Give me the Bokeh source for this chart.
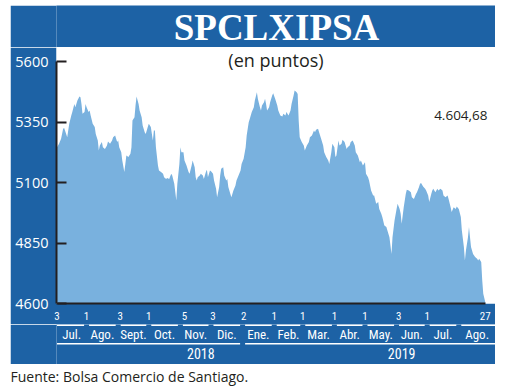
import pandas as pd
from bokeh.plotting import figure
from bokeh.models import Range1d, LinearAxis, FixedTicker, Label
from bokeh.layouts import column
from bokeh.embed import file_html
from bokeh.resources import INLINE
from bokeh.core.properties import value

# ---------------- data ----------------
title_text = "SPCLXIPSA"
subtitle_text = "(en puntos)"
last_value_label = "4.604,68"
source_text = "Fuente: Bolsa Comercio de Santiago."

start_date = "2018-07-03"
day_offsets = [
    0, 2, 4, 6, 7, 9, 10, 12, 14, 15, 17, 18, 20, 22, 23, 24, 25, 27, 28, 29,
    31, 32, 33, 35, 37, 38, 40, 41, 42, 44, 45, 47, 49, 50, 52, 54, 55, 57, 59, 60,
    61, 63, 64, 66, 67, 68, 70, 72, 73, 74, 76, 77, 78, 80, 81, 83, 84, 86, 87, 89,
    90, 92, 94, 95, 96, 97, 99, 100, 102, 104, 105, 107, 108, 110, 112, 113, 115, 117, 118, 120,
    121, 122, 124, 125, 127, 129, 130, 132, 133, 135, 136, 137, 138, 140, 141, 143, 144, 146, 147, 148,
    150, 151, 153, 154, 156, 157, 159, 160, 161, 163, 164, 166, 167, 168, 170, 171, 173, 175, 176, 178,
    180, 181, 183, 185, 186, 188, 189, 191, 193, 194, 196, 197, 199, 200, 201, 203, 204, 205, 206, 208,
    209, 211, 212, 214, 216, 217, 219, 221, 222, 224, 225, 227, 229, 230, 232, 233, 235, 236, 237, 238,
    240, 242, 243, 245, 247, 248, 250, 252, 253, 254, 256, 257, 259, 261, 262, 264, 266, 267, 269, 270,
    272, 273, 274, 276, 277, 279, 280, 282, 284, 285, 287, 288, 290, 292, 293, 295, 297, 298, 300, 302,
    303, 305, 306, 308, 310, 311, 313, 315, 316, 318, 319, 321, 323, 324, 326, 328, 329, 331, 333, 334,
    336, 337, 338, 340, 342, 343, 345, 347, 348, 350, 352, 353, 355, 356, 357, 359, 361, 362, 364, 365,
    367, 368, 369, 371, 373, 374, 376, 378, 379, 381, 383, 384, 386, 387, 389, 391, 392, 394, 396, 397,
    399, 400, 401, 403, 404, 405, 406, 408, 409, 410, 412, 413, 414, 416, 417, 418, 420,
]
index_values = [
    5246, 5260, 5281, 5322, 5325, 5301, 5287, 5343, 5377, 5391, 5425, 5411, 5439, 5455, 5452, 5425, 5384, 5391, 5425, 5411,
    5391, 5398, 5377, 5343, 5329, 5301, 5274, 5232, 5253, 5267, 5246, 5239, 5253, 5270, 5260, 5274, 5287, 5294, 5267, 5274,
    5246, 5225, 5191, 5143, 5177, 5212, 5205, 5219, 5246, 5356, 5370, 5418, 5455, 5425, 5398, 5370, 5336, 5308, 5301, 5329,
    5343, 5329, 5274, 5315, 5315, 5246, 5170, 5150, 5143, 5136, 5122, 5115, 5119, 5115, 5136, 5129, 5095, 5026, 5095, 5177,
    5246, 5225, 5225, 5191, 5170, 5143, 5136, 5170, 5191, 5163, 5122, 5108, 5122, 5129, 5136, 5129, 5115, 5143, 5153, 5122,
    5150, 5147, 5136, 5108, 5074, 5039, 5081, 5129, 5157, 5163, 5129, 5108, 5115, 5081, 5053, 5039, 5067, 5088, 5108, 5129,
    5150, 5177, 5198, 5246, 5294, 5349, 5363, 5391, 5411, 5439, 5473, 5445, 5411, 5398, 5418, 5432, 5446, 5425, 5398, 5411,
    5432, 5460, 5469, 5445, 5418, 5398, 5377, 5373, 5384, 5377, 5391, 5377, 5398, 5425, 5460, 5480, 5473, 5466, 5356, 5287,
    5267, 5253, 5232, 5253, 5267, 5287, 5294, 5315, 5308, 5318, 5322, 5308, 5281, 5253, 5225, 5205, 5191, 5177, 5225, 5260,
    5246, 5205, 5212, 5274, 5253, 5260, 5277, 5267, 5239, 5246, 5253, 5267, 5274, 5253, 5225, 5212, 5184, 5191, 5170, 5184,
    5136, 5122, 5108, 5067, 5046, 5046, 5012, 5019, 4991, 4971, 4957, 4922, 4916, 4902, 4874, 4805, 4874, 4943, 4991, 5012,
    4991, 4971, 4930, 4998, 5053, 5070, 5067, 5060, 5039, 5032, 5053, 5060, 5081, 5095, 5098, 5084, 5074, 5067, 5046, 5019,
    5053, 5067, 5074, 5060, 5074, 5067, 5074, 5067, 5046, 5039, 5046, 5032, 4998, 4978, 4998, 4991, 5001, 4991, 4957, 4902,
    4833, 4778, 4819, 4874, 4916, 4874, 4833, 4805, 4798, 4792, 4785, 4778, 4785, 4771, 4695, 4640, 4604.68,
]

y_ticks = [4600, 4850, 5100, 5350, 5600]

tick_dates = ["2018-07-03", "2018-08-01", "2018-09-03", "2018-10-01", "2018-11-05",
              "2018-12-03", "2019-01-02", "2019-02-01", "2019-03-01", "2019-04-01",
              "2019-05-01", "2019-06-03", "2019-07-01", "2019-08-27"]
tick_day_labels = ["3", "1", "3", "1", "5", "3", "2", "1", "1", "1", "1", "3", "1", "27"]

month_starts = ["2018-07-03", "2018-08-01", "2018-09-01", "2018-10-01", "2018-11-01",
                "2018-12-01", "2019-01-01", "2019-02-01", "2019-03-01", "2019-04-01",
                "2019-05-01", "2019-06-01", "2019-07-01", "2019-08-01"]
month_labels = ["Jul.", "Ago.", "Sept.", "Oct.", "Nov.", "Dic.", "Ene.",
                "Feb.", "Mar.", "Abr.", "May.", "Jun.", "Jul.", "Ago."]

year_starts = ["2018-07-03", "2019-01-01"]
year_labels = ["2018", "2019"]
year_label_dates = ["2018-11-21", "2019-06-06"]

# ---------------- helpers / styles ----------------
t0 = pd.Timestamp(start_date)


def day(d):
    return (pd.Timestamp(d) - t0).days


BLUE = "#1d62a5"
FILL = "#79b1de"
INK = "#231f20"
NARROW = ("Liberation Sans Narrow, Noto Sans Condensed, Roboto Condensed, "
          "DejaVu Sans Condensed, Roboto, sans-serif")
SANS = "Open Sans"

W = 485          # page x 10 .. 495
LEFT = 46        # plot area starts at page x 56
x_range = Range1d(-0.5, 430)


def base_fig(height, **kw):
    opts = dict(width=W, height=height, x_axis_type=None, y_axis_type=None,
                toolbar_location=None, output_backend="svg", title=None,
                outline_line_color=None)
    opts.update(kw)
    return figure(**opts)


# ---------------- title banner ----------------
p0 = base_fig(42, min_border_left=LEFT, min_border_right=0, min_border_top=0,
              min_border_bottom=0, background_fill_color=BLUE, border_fill_color=BLUE)
p0.add_layout(Label(x=220, y=20, x_units="screen", y_units="screen", text=title_text,
                    text_align="center", text_baseline="middle",
                    text_font="Liberation Serif", text_font_style="bold",
                    text_font_size="37px", text_color="white"))

# ---------------- main chart ----------------
p = base_fig(277, x_range=x_range, y_range=Range1d(4600, 5658),
             min_border_left=LEFT, min_border_right=0, min_border_top=0,
             min_border_bottom=21,
             background_fill_color="white", border_fill_color=BLUE)

p.varea(x=day_offsets, y1=y_ticks[0], y2=index_values, fill_color=FILL)

yaxis = LinearAxis(ticker=FixedTicker(ticks=y_ticks), bounds=(y_ticks[0], y_ticks[-1]),
                   axis_line_color=INK, axis_line_width=2,
                   major_tick_line_color=INK, major_tick_line_width=2,
                   major_tick_in=10, major_tick_out=0,
                   minor_tick_line_color=None, minor_tick_in=0, minor_tick_out=0,
                   major_label_text_color="white", major_label_text_font=SANS,
                   major_label_text_font_size="14.5px", major_label_standoff=8)
p.add_layout(yaxis, "left")

tick_x = [day(d) for d in tick_dates]
xaxis = LinearAxis(ticker=FixedTicker(ticks=tick_x),
                   bounds=(day_offsets[0], day_offsets[-1]),
                   major_label_overrides={x: lab for x, lab in zip(tick_x, tick_day_labels)},
                   axis_line_color=INK, axis_line_width=2,
                   major_tick_line_color=None, major_tick_in=0, major_tick_out=0,
                   minor_tick_line_color=None, minor_tick_in=0, minor_tick_out=0,
                   major_label_text_color="white", major_label_text_font=NARROW,
                   major_label_text_font_size="11px", major_label_standoff=8)
p.add_layout(xaxis, "below")

p.add_layout(Label(x=219.5, y=243.3, x_units="screen", y_units="screen", text=subtitle_text,
                   text_align="center", text_baseline="middle",
                   text_font=SANS, text_font_size="18px", text_color=INK))
p.add_layout(Label(x=431, y=188, x_units="screen", y_units="screen", text=last_value_label,
                   text_align="right", text_baseline="middle",
                   text_font=SANS, text_font_size="13.5px", text_color=INK))

# ---------------- month / year band ----------------
H2 = 40
p2 = base_fig(H2, x_range=x_range, y_range=Range1d(H2, 0),
              min_border_left=LEFT, min_border_right=0, min_border_top=0, min_border_bottom=0,
              background_fill_color=BLUE, border_fill_color=BLUE)

mx0 = [day(d) for d in month_starts]
mx1 = mx0[1:] + [x_range.end]
mid = [(a + b) / 2 for a, b in zip(mx0, mx1)]
p2.segment(x0=mx0, y0=0.75, x1=mx1, y1=0.75, line_color="white", line_width=1.5)
p2.rect(x=mx0[1:], y=0.75, width=5, height=4, width_units="screen", height_units="screen",
        fill_color=BLUE, line_color=None)
p2.text(x=mid, y=10, text=month_labels, text_align="center", text_baseline="middle",
        text_color="white", text_font=value(NARROW), text_font_size=value("13px"))

yx0 = [day(d) for d in year_starts]
yx1 = yx0[1:] + [x_range.end]
p2.segment(x0=yx0, y0=19.3, x1=yx1, y1=19.3, line_color="white", line_width=1.5)
p2.rect(x=yx0[1:], y=19.3, width=5, height=4, width_units="screen", height_units="screen",
        fill_color=BLUE, line_color=None)
p2.text(x=[day(d) for d in year_label_dates], y=28.5, text=year_labels, text_align="center",
        text_baseline="middle", text_color="white", text_font=value(NARROW),
        text_font_size=value("14px"))

# ---------------- footer (title panel, shifted to the page's left edge) ----------------
p3 = base_fig(22, title=source_text, min_border_left=LEFT, min_border_right=0,
              min_border_top=0, min_border_bottom=0,
              background_fill_color="white", border_fill_color="white")
p3.title.align = "left"
p3.title.offset = -LEFT
p3.title.standoff = 0
p3.title.text_font = SANS
p3.title.text_font_size = "14px"
p3.title.text_font_style = "normal"
p3.title.text_color = INK

layout = column(p0, p, p2, p3, spacing=0, margin=(5, 0, 0, 10))
open("out.html", "w").write(file_html(layout, INLINE))
